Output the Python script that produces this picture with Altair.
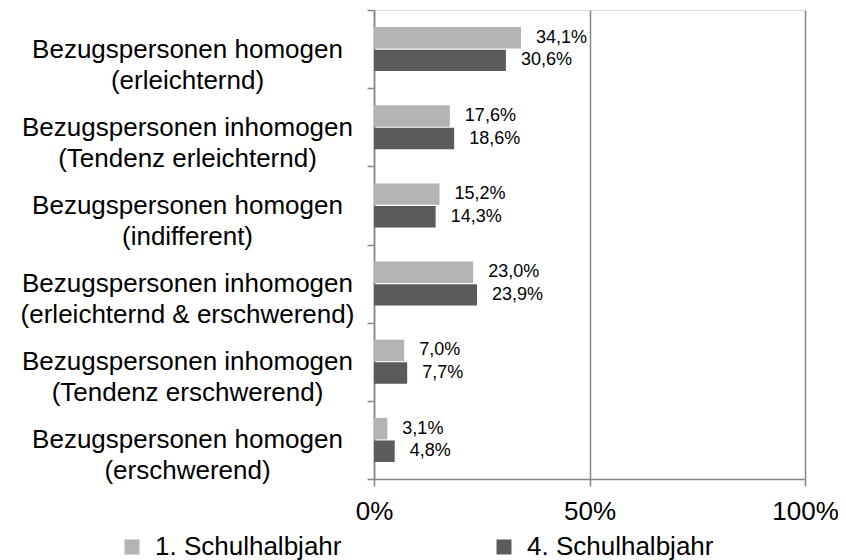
import altair as alt
import pandas as pd

categories = [
    "Bezugspersonen homogen\n(erleichternd)",
    "Bezugspersonen inhomogen\n(Tendenz erleichternd)",
    "Bezugspersonen homogen\n(indifferent)",
    "Bezugspersonen inhomogen\n(erleichternd & erschwerend)",
    "Bezugspersonen inhomogen\n(Tendenz erschwerend)",
    "Bezugspersonen homogen\n(erschwerend)",
]
series = ["1. Schulhalbjahr", "4. Schulhalbjahr"]
values_h1 = [34.1, 17.6, 15.2, 23.0, 7.0, 3.1]
values_h4 = [30.6, 18.6, 14.3, 23.9, 7.7, 4.8]
x_ticks = [0, 50, 100]
colors = ["#b3b3b3", "#5b5b5b"]

rows = []
for c, a, b in zip(categories, values_h1, values_h4):
    rows.append({"cat": c, "series": series[0], "value": a})
    rows.append({"cat": c, "series": series[1], "value": b})
df = pd.DataFrame(rows)

FONT = "Liberation Sans"
GRAY = "#868686"

y_enc = alt.Y(
    "cat:N",
    sort=categories,
    scale=alt.Scale(paddingInner=0, paddingOuter=0),
    axis=alt.Axis(
        title=None,
        tickBand="extent",
        tickSize=7,
        tickColor=GRAY,
        tickWidth=1.5,
        domainColor=GRAY,
        domainWidth=1.5,
        labelAlign="center",
        labelBaseline="middle",
        labelPadding=180,
        labelFontSize=26,
        labelFont=FONT,
        labelColor="#000000",
        labelLineHeight=31,
        labelLimit=500,
        labelExpr="split(datum.label, '\\n')",
        grid=False,
    ),
)
yoff = alt.YOffset(
    "series:N",
    sort=series,
    scale=alt.Scale(paddingInner=0.05, paddingOuter=0.755),
)
x_enc = alt.X(
    "value:Q",
    scale=alt.Scale(domain=[0, 100], nice=False),
    axis=alt.Axis(
        title=None,
        values=x_ticks,
        labelExpr="datum.value + '%'",
        grid=True,
        gridColor=GRAY,
        gridWidth=1.5,
        tickSize=7,
        tickColor=GRAY,
        tickWidth=1.5,
        domainColor=GRAY,
        domainWidth=1.5,
        labelFontSize=26,
        labelFont=FONT,
        labelColor="#000000",
        labelPadding=12,
        labelFlush=False,
    ),
)
color_enc = alt.Color(
    "series:N",
    sort=series,
    scale=alt.Scale(domain=series, range=colors),
    legend=alt.Legend(
        title=None,
        orient="none",
        legendX=-255,
        legendY=524,
        direction="horizontal",
        columns=2,
        columnPadding=149,
        labelOffset=10,
        symbolType="square",
        symbolSize=225,
        symbolStrokeWidth=0,
        labelFontSize=26,
        labelFont=FONT,
        labelColor="#000000",
        labelLimit=500,
        padding=0,
    ),
)

base = alt.Chart(df)
bars = base.mark_bar().encode(y=y_enc, yOffset=yoff, x=x_enc, color=color_enc)
labels = (
    base.transform_calculate(
        lbl="replace(format(datum.value, '.1f'), '.', ',') + '%'"
    )
    .mark_text(align="left", baseline="middle", dx=15, fontSize=18, font=FONT, color="#000000")
    .encode(y=alt.Y("cat:N", sort=categories), yOffset=alt.YOffset("series:N", sort=series), x="value:Q", text="lbl:N")
)

chart = (
    alt.layer(bars, labels)
    .properties(
        width=431,
        height=469,
        autosize=alt.AutoSizeParams(type="none"),
        padding={"left": 366, "top": 2, "right": 33, "bottom": 81},
    )
    .configure_view(stroke=None)
    .configure(font=FONT)
)

chart.save("out.html", embed_options={"renderer": "svg", "actions": False})
